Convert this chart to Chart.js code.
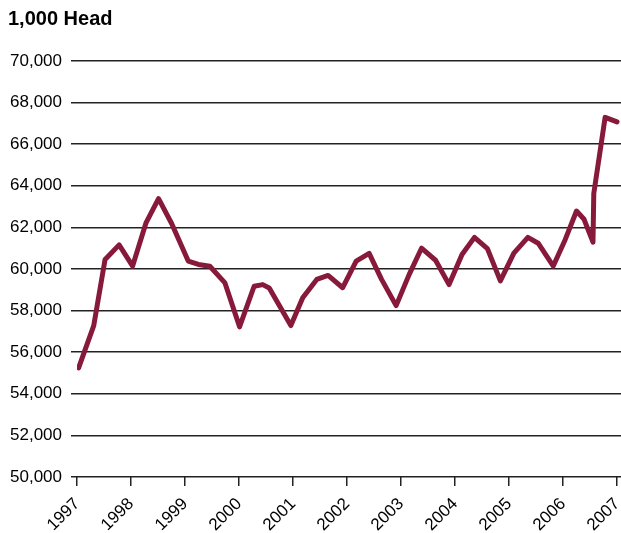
<!DOCTYPE html>
<html>
<head>
<meta charset="utf-8">
<script src="https://cdn.jsdelivr.net/npm/chart.js@4"></script>
<style>
  html, body { margin: 0; padding: 0; background: #fff; }
  #wrap { width: 621px; height: 533px; }
</style>
</head>
<body>
<div id="wrap"><canvas id="chart" width="621" height="533"></canvas></div>
<script>
// inventory, 1,000 head
const years = [1997.03, 1997.31, 1997.52, 1997.78, 1998.03, 1998.28, 1998.51, 1998.75,
  1999.06, 1999.25, 1999.46, 1999.74, 2000.01, 2000.28, 2000.44, 2000.56,
  2000.96, 2001.18, 2001.44, 2001.65, 2001.92, 2002.17, 2002.41, 2002.64,
  2002.91, 2003.15, 2003.38, 2003.64, 2003.89, 2004.13, 2004.36, 2004.60,
  2004.84, 2005.09, 2005.35, 2005.54, 2005.82, 2006.04, 2006.25, 2006.39,
  2006.555, 2006.57, 2006.78, 2007.00];
const head = [55250, 57280, 60460, 61160, 60140, 62230, 63380, 62200,
  60380, 60220, 60130, 59330, 57220, 59170, 59250, 59090,
  57280, 58620, 59500, 59690, 59100, 60380, 60750, 59500,
  58240, 59730, 61000, 60420, 59250, 60700, 61520, 60980,
  59430, 60760, 61520, 61240, 60140, 61410, 62790, 62390,
  61290, 63630, 67290, 67070];
const yearTicks = [1997, 1998, 1999, 2000, 2001, 2002, 2003, 2004, 2005, 2006, 2007];

const points = years.map((y, i) => ({ x: y, y: head[i] }));

const ctx = document.getElementById('chart').getContext('2d');
const chart = new Chart(ctx, {
  type: 'line',
  data: {
    datasets: [{
      label: '1,000 Head',
      data: points,
      borderColor: '#871a3b',
      borderWidth: 5,
      borderJoinStyle: 'round',
      borderCapStyle: 'round',
      pointRadius: 0,
      tension: 0,
      fill: false
    }]
  },
  options: {
    responsive: false,
    animation: false,
    layout: { padding: { left: 8, right: 0, top: 0, bottom: 0 } },
    plugins: {
      legend: { display: false },
      tooltip: { enabled: false },
      title: {
        display: true,
        text: '1,000 Head',
        align: 'start',
        color: '#000',
        font: { family: 'Liberation Sans', size: 20, weight: 'bold' },
        padding: { top: 7, bottom: 30 }
      }
    },
    scales: {
      x: {
        type: 'linear',
        min: 1997,
        max: 2007.074,
        afterBuildTicks: s => { s.ticks = yearTicks.map(v => ({ value: v })); },
        afterFit: s => { s.height = 56; s.paddingRight = 0; s.paddingLeft = 0; },
        ticks: {
          includeBounds: false,
          maxRotation: 45,
          minRotation: 45,
          padding: 8,
          color: '#000',
          font: { family: 'Liberation Sans', size: 17 },
          callback: v => String(v)
        },
        grid: { drawOnChartArea: false, drawTicks: true, tickLength: 9, color: '#222', lineWidth: 1.5 },
        border: { display: false }
      },
      y: {
        min: 50000,
        max: 70000,
        afterFit: s => { s.width = 69; },
        ticks: {
          stepSize: 2000,
          padding: 9,
          color: '#000',
          font: { family: 'Liberation Sans', size: 17 },
          callback: v => v.toLocaleString('en-US')
        },
        grid: { color: '#222', lineWidth: 1.5, tickLength: 6 },
        border: { display: false }
      }
    }
  }
});
</script>
</body>
</html>
